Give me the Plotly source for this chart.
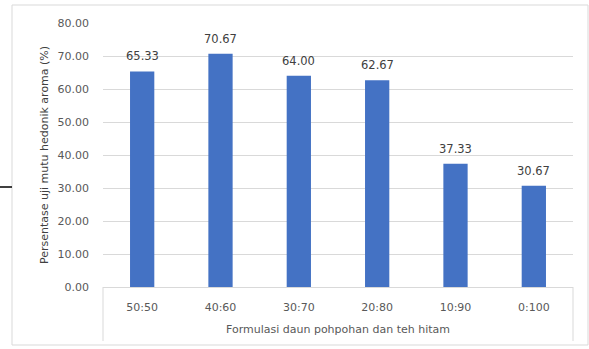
import plotly.graph_objects as go

# Formulation ratios (pohpohan leaf : black tea) and hedonic aroma scores (%)
categories = ["50:50", "40:60", "30:70", "20:80", "10:90", "0:100"]
values = [65.33, 70.67, 64.00, 62.67, 37.33, 30.67]
y_ticks = [0, 10, 20, 30, 40, 50, 60, 70, 80]

W, H = 589, 349
L, R, T, B = 103, 16, 23, 62
pw = W - L - R
ph = H - T - B


def px(x):
    return (x - L) / pw


def py(y):
    return (H - B - y) / ph


FONT = "DejaVu Sans"
grey = "#595959"
dark = "#404040"

fig = go.Figure(
    go.Bar(
        x=categories,
        y=values,
        marker=dict(color="#4472C4", line=dict(width=0)),
        width=0.31,
        hoverinfo="x+y",
    )
)

# Value labels above each bar
for c, v in zip(categories, values):
    fig.add_annotation(
        x=c, y=v, text=f"{v:.2f}", showarrow=False,
        yanchor="bottom", yshift=6,
        font=dict(family=FONT, size=11.5, color=dark),
    )

fig.update_layout(
    width=W,
    height=H,
    margin=dict(l=L, r=R, t=T, b=B),
    plot_bgcolor="white",
    paper_bgcolor="white",
    showlegend=False,
    font=dict(family=FONT, size=11, color=grey),
    xaxis=dict(
        showgrid=False,
        showline=True,
        linecolor="#d9d9d9",
        linewidth=1,
        ticks="",
        tickfont=dict(size=11, color=grey),
        ticklabelstandoff=10,
        title=dict(
            text="Formulasi daun pohpohan dan teh hitam",
            font=dict(size=11, color=grey),
            standoff=12,
        ),
    ),
    yaxis=dict(
        range=[0, 80],
        tickvals=y_ticks,
        ticktext=[f"{v:.2f}" for v in y_ticks],
        showgrid=True,
        gridcolor="#d9d9d9",
        gridwidth=1,
        zeroline=False,
        showline=False,
        ticks="",
        ticklabelstandoff=13,
        tickfont=dict(size=11, color=grey),
        title=dict(
            text="Persentase uji mutu hedonik aroma (%)",
            font=dict(size=11, color=dark),
            standoff=6,
        ),
    ),
)

border = "#d9d9d9"
# Outer chart frame
fig.add_shape(type="rect", xref="paper", yref="paper",
              x0=px(12), x1=px(588), y0=py(345), y1=py(5),
              line=dict(color=border, width=1), layer="below")
# Category-axis side rules below the plot
for xv in (L, W - R):
    fig.add_shape(type="line", xref="paper", yref="paper",
                  x0=px(xv), x1=px(xv), y0=py(H - B), y1=py(341),
                  line=dict(color=border, width=1))
# Short dark rule at the left edge
fig.add_shape(type="line", xref="paper", yref="paper",
              x0=px(0), x1=px(12), y0=py(187), y1=py(187),
              line=dict(color="black", width=1.5))

fig.write_html("out.html")
